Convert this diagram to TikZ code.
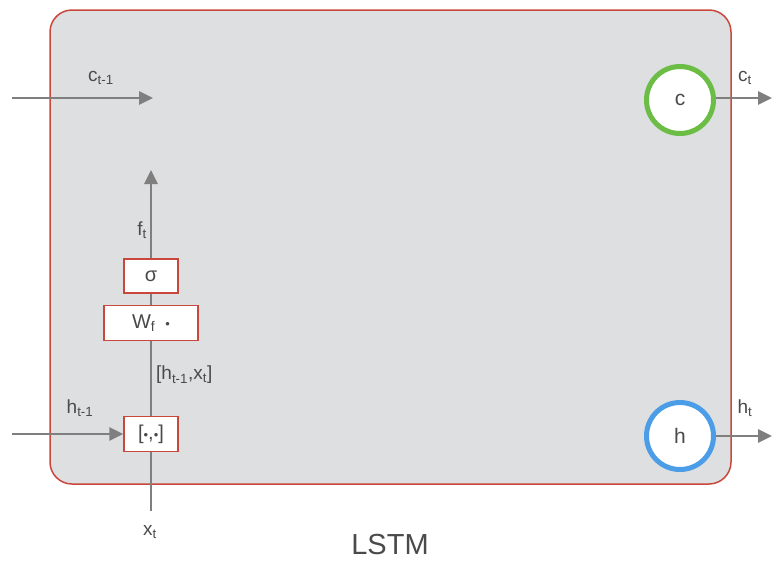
\documentclass[tikz,border=0pt]{standalone}
\usepackage{fontspec}
\setmainfont{Liberation Sans}
\usetikzlibrary{arrows.meta}
\definecolor{boxred}{HTML}{C9473B}
\definecolor{cellgray}{HTML}{DEDFE0}
\definecolor{wiregray}{HTML}{7F7F7F}
\definecolor{textgray}{HTML}{4A4A4A}
\definecolor{cgreen}{HTML}{6CBD45}
\definecolor{hblue}{HTML}{4C9DE8}
\newcommand{\gdot}{{\fontsize{13}{13}\selectfont •}}
\tikzset{
  wire/.style={draw=wiregray,line width=2.6pt},
  flow/.style={wire,-{Triangle[length=14pt,width=13pt]}},
  gate/.style={draw=boxred,fill=white,line width=1.3pt,inner sep=0pt,text=textgray,font=\fontsize{20}{24}\selectfont},
  state/.style={circle,fill=white,line width=5pt,minimum size=67pt,inner sep=0pt,text=textgray,font=\fontsize{21}{25}\selectfont},
  lbl/.style={text=textgray,font=\fontsize{19}{22}\selectfont,inner sep=0pt}
}
\begin{document}
\begin{tikzpicture}[x=1pt,y=-1pt]
\useasboundingbox (0,0) rectangle (772,565);
% cell
\draw[fill=cellgray,draw=boxred,line width=1.5pt,rounded corners=22pt] (50,10) rectangle (731,484);
% cell state and output
\node[state,draw=cgreen] (c) at (680,100) {c};
\node[state,draw=hblue] (h) at (680,436) {h};
% forget gate
\node[gate,minimum width=54pt,minimum height=35pt] (cat) at (151,434) {[\gdot,\gdot]};
\node[gate,minimum width=94pt,minimum height=35pt] (W) at (151,323) {W\textsubscript{f}\hspace{10pt}\gdot};
\node[gate,minimum width=54pt,minimum height=34pt] (sig) at (151,276) {σ};
\coordinate (cin) at (12,98);
\coordinate (cmid) at (153,98);
\coordinate (hin) at (12,434);
\coordinate (xin) at (151,511);
\coordinate (ftop) at (151,170);
\coordinate (cout) at (772,98);
\coordinate (hout) at (772,436);
\draw[flow] (cin) -- (cmid);
\draw[flow] (hin) -- (cat.west);
\draw[wire] (xin) -- (cat.south);
\draw[wire] (cat.north) -- (W.south);
\draw[wire] (W.north) -- (sig.south);
\draw[flow] (sig.north) -- (ftop);
\draw[flow] (c.east |- cout) -- (cout);
\draw[flow] (h.east) -- (hout);
% labels
\node[lbl] (lc) at (101,78) {c\textsubscript{t-1}};
\node[lbl] (lh) at (80,408) {h\textsubscript{t-1}};
\node[lbl] (lf) at (142,230) {f\textsubscript{t}};
\node[lbl,anchor=west] (lhx) at (156,375) {[h\textsubscript{t-1},x\textsubscript{t}]};
\node[lbl] (lx) at (150,532) {x\textsubscript{t}};
\node[lbl] (lct) at (745,78) {c\textsubscript{t}};
\node[lbl] (lht) at (745,408) {h\textsubscript{t}};
\node[text=textgray,font=\fontsize{29}{33}\selectfont,inner sep=0pt] (name) at (390,545) {LSTM};
\end{tikzpicture}
\end{document}
